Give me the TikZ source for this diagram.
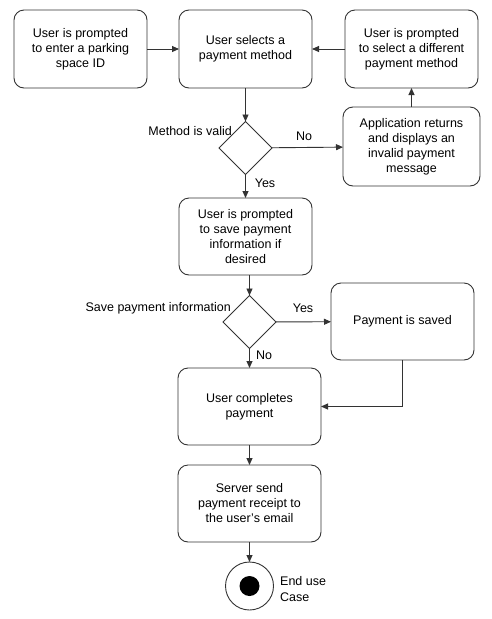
\documentclass[tikz,border=0pt]{standalone}
\usepackage{fontspec}
\setmainfont{Liberation Sans}
\usepackage{tikz}
\usetikzlibrary{arrows.meta,positioning,shapes.geometric}
\definecolor{linegray}{HTML}{333333}

\begin{document}
\begin{tikzpicture}[>={Triangle[length=7pt,width=6pt]},x=1pt,y=-1pt]
    \tikzstyle{flow} = [->, linegray, line width = 0.9pt]
    \tikzstyle{act} = [shape=rectangle, draw=linegray, line width=0.9pt, rounded corners=10, align=center, inner sep=0, outer sep=0, font=\fontsize{12.5}{15}\selectfont]
    \tikzstyle{choice} = [shape=diamond, draw=linegray, line width=0.9pt, inner sep=0, outer sep=0, minimum width=53, minimum height=53]
    \tikzstyle{lbl} = [inner sep=0, font=\fontsize{12.5}{15}\selectfont]
    \useasboundingbox (0,0) rectangle (491,619);

    \node[act, minimum width=133, minimum height=78] (v1) at (80.5,49) {User is prompted\\to enter a parking\\space ID};
    \node[act, minimum width=133, minimum height=78] (v2) at (245.5,49) {User selects a\\payment method};
    \node[act, minimum width=133, minimum height=78] (v3) at (411.5,49) {User is prompted\\to select a different\\payment method};
    \node[choice] (d1) at (245.5,148) {};
    \node[act, minimum width=137, minimum height=79] (v4) at (411.5,146.5) {Application returns\\and displays an\\invalid payment\\message};
    \node[act, minimum width=133, minimum height=77] (v5) at (245.5,236.5) {User is prompted\\to save payment\\information if\\desired};
    \node[choice] (d2) at (249.5,322) {};
    \node[act, minimum width=143, minimum height=77] (v6) at (402.5,321.5) {Payment is saved};
    \node[act, minimum width=143, minimum height=77] (v7) at (249.5,406.5) {User completes\\payment};
    \node[act, minimum width=143, minimum height=77] (v8) at (249.5,503.5) {Server send\\payment receipt to\\the user’s email};
    \node[circle, draw=linegray, line width=0.9pt, minimum size=48, inner sep=0, outer sep=0] (end) at (249.5,586) {};
    \node[circle, fill=black, minimum size=20, inner sep=0] (endin) at (end.center) {};

    \node[lbl, anchor=east] (l1) at (232,131) {Method is valid};
    \node[lbl] (l2) at (304,136) {No};
    \node[lbl] (l3) at (265,183) {Yes};
    \node[lbl, anchor=east] (l4) at (231,308) {Save payment information};
    \node[lbl] (l5) at (303,308) {Yes};
    \node[lbl] (l6) at (264,355) {No};
    \node[lbl, anchor=west, align=left, font=\fontsize{12.5}{16.5}\selectfont] (l7) at (280,589) {End use\\Case};

    \draw[flow] (v1) -- (v2);
    \draw[flow] (v3) -- (v2);
    \draw[flow] (v2) -- (d1);
    \draw[flow] (d1) -- (v4);
    \draw[flow] (v4) -- (v3);
    \draw[flow] (d1) -- (v5);
    \draw[flow] (d2.north |- v5.south) -- (d2.north);
    \draw[flow] (d2) -- (v6);
    \draw[flow] (d2) -- (v7);
    \draw[flow] (v6.south) |- (v7.east);
    \draw[flow] (v7) -- (v8);
    \draw[flow] (v8) -- (end);
\end{tikzpicture}
\end{document}
